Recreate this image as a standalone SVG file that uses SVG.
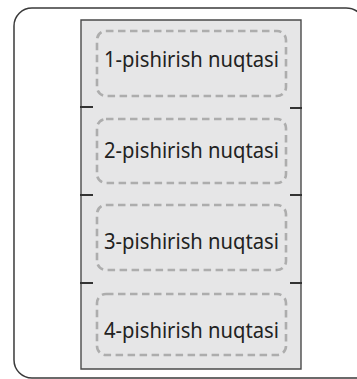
<svg xmlns="http://www.w3.org/2000/svg" width="357" height="379" viewBox="0 0 357 379">
<style>
.frame{fill:none;stroke:#3a3a3a;stroke-width:1.5}
.box{fill:#e6e6e7;stroke:none}
.edge{fill:none;stroke:#4a4a4a;stroke-width:1.4}
.tick{fill:none;stroke:#333;stroke-width:2}
.dash{fill:none;stroke:#adadad;stroke-width:2.6;stroke-dasharray:7.5 4.5}
.lbl{font-family:"Noto Sans","Open Sans",sans-serif;font-size:21px;fill:#222;text-anchor:middle}
</style>
<path class="frame" d="M372 378 H32 A18 18 0 0 1 14 360 V26 A18 18 0 0 1 32 8 H346 A20 20 0 0 1 366 28"/>
<g id="node1">
<rect class="box" x="81" y="20" width="220" height="87"/>
<rect class="dash" x="97" y="31" width="189" height="65" rx="9"/>
<text class="lbl" x="191.5" y="67" textLength="175" lengthAdjust="spacingAndGlyphs">1-pishirish nuqtasi</text>
</g>
<g id="node2">
<rect class="box" x="81" y="107" width="220" height="88"/>
<rect class="dash" x="97" y="119" width="189" height="64" rx="9"/>
<text class="lbl" x="191.5" y="158" textLength="175" lengthAdjust="spacingAndGlyphs">2-pishirish nuqtasi</text>
</g>
<g id="node3">
<rect class="box" x="81" y="195" width="220" height="88"/>
<rect class="dash" x="97" y="205" width="189" height="65" rx="9"/>
<text class="lbl" x="191.5" y="249" textLength="175" lengthAdjust="spacingAndGlyphs">3-pishirish nuqtasi</text>
</g>
<g id="node4">
<rect class="box" x="81" y="283" width="220" height="86"/>
<rect class="dash" x="97" y="294" width="189" height="61" rx="9"/>
<text class="lbl" x="191.5" y="338" textLength="175" lengthAdjust="spacingAndGlyphs">4-pishirish nuqtasi</text>
</g>
<g id="connectors">
<path class="edge" d="M81 369 V20 H301 V369 Z"/>
<path class="tick" d="M80 107 H93 M290 108 H302 M80 195 H93 M290 195 H302 M80 283 H93 M290 283 H302"/>
</g>
</svg>
